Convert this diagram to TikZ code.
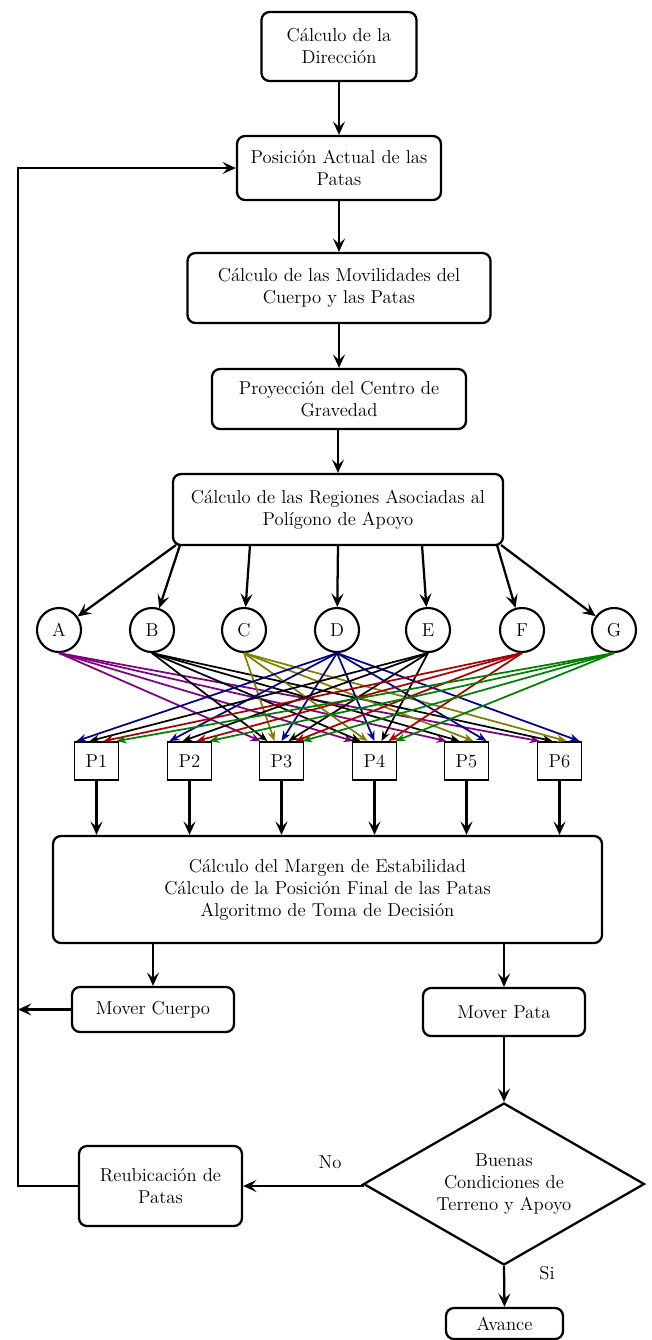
\documentclass[tikz,border=0pt]{standalone}
\usetikzlibrary{arrows.meta,shapes.geometric,calc}
\definecolor{cpurple}{RGB}{128,0,128}
\definecolor{colive}{RGB}{128,128,0}
\definecolor{cnavy}{RGB}{0,0,140}
\definecolor{cred}{RGB}{170,0,0}
\definecolor{cgreen}{RGB}{0,128,0}
\begin{document}
\begin{tikzpicture}[x=0.75pt,y=-0.75pt,
  font=\fontsize{14}{16.5}\selectfont,
  box/.style={draw,line width=1.7pt,rounded corners=6pt,align=center,inner sep=2pt},
  circ/.style={draw,circle,line width=1.6pt,minimum size=33pt,inner sep=0pt},
  pbox/.style={draw,line width=1.4pt,minimum width=33pt,minimum height=28.5pt,inner sep=0pt},
  arr/.style={line width=1.7pt,-{Stealth[length=10pt,width=9pt,inset=4pt]}},
  carr/.style={line width=1.3pt,-{Stealth[length=7.5pt,width=6pt,inset=2.5pt]}},
  lbl/.style={inner sep=0pt}]
\useasboundingbox (0,0) rectangle (652,1340);

% main column
\node[box,minimum width=116.25pt,minimum height=51.75pt] (dir) at (339,46.5) {Cálculo de la\\Dirección};
\node[box,minimum width=153pt,minimum height=48pt] (pos) at (339,168) {Posición Actual de las\\Patas};
\node[box,minimum width=227.25pt,minimum height=52.5pt] (mov) at (339,288) {Cálculo de las Movilidades del\\Cuerpo y las Patas};
\node[box,minimum width=190.5pt,minimum height=45pt] (pro) at (339,399) {Proyección del Centro de\\Gravedad};
\node[box,minimum width=247.5pt,minimum height=53.25pt] (reg) at (338,509.5) {Cálculo de las Regiones Asociadas al\\Polígono de Apoyo};

\draw[arr] (dir) -- (pos);
\draw[arr] (pos) -- (mov);
\draw[arr] (mov) -- (pro);
\draw[arr] (pro.south -| reg) -- (reg);

% regions
\foreach \n/\x in {A/59,B/152,C/244,D/337,E/428,F/522,G/614}
  \node[circ] (\n) at (\x,630) {\n};

\coordinate (rA) at (176,545);
\coordinate (rB) at (180,545);
\coordinate (rC) at (250,545);
\coordinate (rD) at (338,545);
\coordinate (rE) at (422,545);
\coordinate (rF) at (497,545);
\coordinate (rG) at (501,545);
\foreach \n in {A,B,C,D,E,F,G}
  \draw[arr] (r\n) -- (\n);

% legs
\foreach \n/\x in {1/96.5,2/189.5,3/281.5,4/374.5,5/466.5,6/559.5}
  \node[pbox] (P\n) at (\x,761) {P\n};

% colored connections
\foreach \s/\p/\o/\c in {
  A/P3/-21/cpurple, A/P4/-21/cpurple, A/P5/-20/cpurple, A/P6/-20/cpurple,
  B/P3/-14/black, B/P4/-14/black, B/P5/-7/black, B/P6/-7/black,
  C/P3/-7/colive, C/P4/-7/colive, C/P5/7/colive, C/P6/7/colive,
  D/P1/-20/cnavy, D/P2/-20/cnavy, D/P3/0/cnavy, D/P4/0/cnavy, D/P5/20/cnavy, D/P6/20/cnavy,
  E/P1/-7/black, E/P2/-7/black, E/P3/7/black, E/P4/7/black,
  F/P1/7/cred, F/P2/7/cred, F/P3/14/cred, F/P4/14/cred,
  G/P1/20/cgreen, G/P2/20/cgreen, G/P3/21/cgreen, G/P4/21/cgreen}
  \draw[carr,draw=\c,fill=\c] (\s.south) -- ($(\p.north)+(\o,0)$);

% decision block
\node[box,minimum width=411.75pt,minimum height=80.25pt] (big) at (327.5,889.5)
  {Cálculo del Margen de Estabilidad\\Cálculo de la Posición Final de las Patas\\Algoritmo de Toma de Decisión};
\foreach \n in {1,...,6}
  \draw[arr] (P\n) -- (P\n |- big.north);

\node[box,minimum width=121.5pt,minimum height=33.75pt] (mc) at (153,1009.5) {Mover Cuerpo};
\node[box,minimum width=121.5pt,minimum height=36pt] (mp) at (504,1012) {Mover Pata};
\draw[arr] (big.south -| mc) -- (mc.north);
\draw[arr] (big.south -| mp) -- (mp.north);

\node[diamond,draw,line width=1.7pt,aspect=1.73,minimum width=210.75pt,minimum height=121.5pt,inner sep=0pt,align=center] (dec) at (504,1184) {Buenas\\Condiciones de\\Terreno y Apoyo};
\draw[arr] (mp) -- (dec);

\node[box,minimum width=122.25pt,minimum height=60pt] (reub) at (160.5,1186) {Reubicación de\\Patas};
\node[box,minimum width=87.75pt,minimum height=23.25pt] (av) at (504.5,1323.5) {Avance};

\draw[arr] (dec.west) -- (reub.east -| dec.west) -- (reub.east);
\node[lbl] (no) at (330,1162) {No};
\draw[arr] (dec.south) -- (av.north);
\node[lbl] (si) at (547,1273) {Si};

% feedback
\coordinate (L) at (18,0);
\draw[arr] (reub.west) -- (reub.west -| L) -- (pos.west -| L) -- (pos.west);
\draw[arr] (mc.west) -- (mc.west -| L);
\end{tikzpicture}
\end{document}
